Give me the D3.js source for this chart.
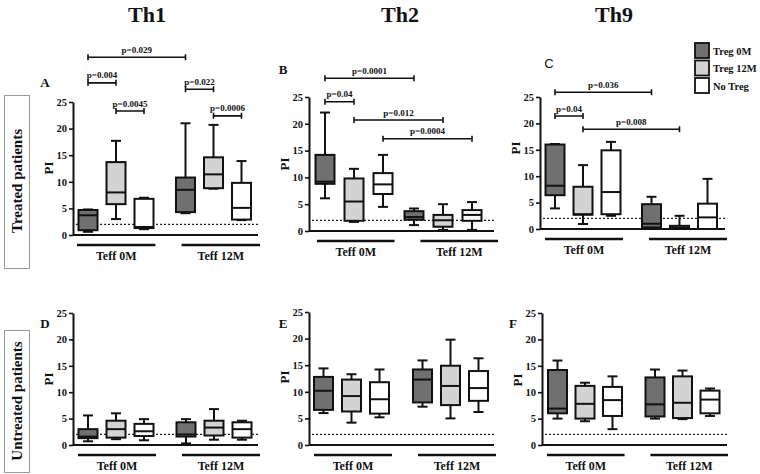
<!DOCTYPE html>
<html lang="en">
<head>
    <meta charset="UTF-8">
    <title>Th1 / Th2 / Th9 proliferation index</title>
    <script src="https://cdn.jsdelivr.net/npm/d3@7"></script>
    <style>
      body { margin: 0; background: #fff; }
      svg text { font-family: "Liberation Serif", "Times New Roman", serif; font-weight: bold; fill: #111; }
    </style>
</head>
<body>
    <div id="container"></div>

    <script>
      // categories
      const groups = ["Teff 0M", "Teff 12M"];
      const series = ["Treg 0M", "Treg 12M", "No Treg"];
      const yTicks = [0, 5, 10, 15, 20, 25];
      const columnTitles = ["Th1", "Th2", "Th9"];
      const rowTitles = ["Treated patients", "Untreated patients"];
      const refLevel = 2;

      // box stats [min, q1, median, q3, max]
      // order: Teff 0M (Treg 0M, Treg 12M, No Treg), then Teff 12M (same)
      const th1Treated = [
          [0.6, 0.9, 3.7, 4.7, 4.8],
          [3.0, 5.8, 8.0, 13.7, 17.7],
          [1.1, 1.3, 1.5, 6.8, 7.0],
          [4.1, 4.3, 8.5, 10.8, 21.0],
          [8.7, 8.8, 11.4, 14.6, 20.7],
          [2.8, 2.9, 5.1, 9.8, 13.9]
      ];
      const th2Treated = [
          [6.1, 8.8, 9.2, 14.2, 22.1],
          [1.7, 1.9, 5.5, 9.8, 11.6],
          [4.5, 6.9, 8.7, 10.8, 14.2],
          [1.1, 2.1, 2.6, 3.7, 4.2],
          [0.2, 0.8, 2.0, 3.0, 5.0],
          [0.2, 1.9, 3.0, 3.9, 5.4]
      ];
      const th9Treated = [
          [3.9, 6.4, 8.2, 16.0, 16.1],
          [0.95, 2.7, 2.8, 8.0, 12.1],
          [2.5, 2.8, 7.0, 14.9, 16.5],
          [0.1, 0.3, 1.0, 4.7, 6.1],
          [0.0, 0.0, 0.25, 0.6, 2.5],
          [0.0, 0.0, 2.2, 4.8, 9.5]
      ];
      const th1Untreated = [
          [0.7, 1.3, 1.6, 3.0, 5.6],
          [1.1, 1.4, 3.0, 4.6, 6.0],
          [0.9, 1.7, 2.6, 4.0, 4.9],
          [0.3, 1.6, 2.0, 4.3, 4.9],
          [1.0, 1.8, 3.3, 4.6, 6.8],
          [1.0, 1.4, 3.0, 4.3, 4.6]
      ];
      const th2Untreated = [
          [6.0, 6.6, 10.2, 12.8, 14.4],
          [4.2, 6.3, 9.2, 12.3, 13.3],
          [5.2, 5.9, 8.6, 11.8, 14.2],
          [7.2, 8.0, 12.3, 14.2, 15.9],
          [5.0, 7.5, 11.1, 14.9, 19.8],
          [6.2, 8.3, 10.7, 13.9, 16.3]
      ];
      const th9Untreated = [
          [5.0, 6.0, 6.9, 14.2, 16.0],
          [4.5, 5.0, 7.8, 11.2, 11.8],
          [3.0, 5.5, 8.5, 11.0, 13.0],
          [5.0, 5.4, 7.7, 12.8, 14.3],
          [4.9, 5.1, 8.0, 13.0, 14.1],
          [5.5, 6.0, 8.6, 10.3, 10.7]
      ];

      // significance brackets [from box, to box, level, label]
      const testsA = [
          [0, 3, 33.4, "p=0.029"],
          [0, 1, 28.6, "p=0.004"],
          [1, 2, 23.3, "p=0.0045"],
          [3, 4, 27.4, "p=0.022"],
          [4, 5, 22.4, "p=0.0006"]
      ];
      const testsB = [
          [0, 3, 28.5, "p=0.0001"],
          [0, 1, 24.1, "p=0.04"],
          [1, 4, 20.7, "p=0.012"],
          [2, 5, 17.2, "p=0.0004"]
      ];
      const testsC = [
          [0, 3, 25.9, "p=0.036"],
          [0, 1, 21.4, "p=0.04"],
          [1, 4, 18.9, "p=0.008"]
      ];

      const width = 760;
      const height = 474;
      const fills = d3.scaleOrdinal().domain(series).range(["#707070", "#d3d3d3", "#ffffff"]);

      const panels = [
          { letter: "A", data: th1Treated, tests: testsA, x: 73, y0: 235, y25: 102, lx: 45, ly: 82, py: 168, centers: [43, 140.5], spread: 28, band: [4, 187] },
          { letter: "B", data: th2Treated, tests: testsB, x: 309, y0: 231, y25: 97, lx: 283, ly: 69, py: 164, centers: [45, 134], spread: 29, band: [8, 189] },
          { letter: "C", data: th9Treated, tests: testsC, x: 540, y0: 229, y25: 97, lx: 549, ly: 63, py: 148, centers: [43, 139.5], spread: 28, band: [5, 187], sans: true },
          { letter: "D", data: th1Untreated, tests: [], x: 73, y0: 445, y25: 313, lx: 45, ly: 323, py: 379, centers: [43, 141], spread: 28, band: [5, 187] },
          { letter: "E", data: th2Untreated, tests: [], x: 309, y0: 445, y25: 312, lx: 283, ly: 323, py: 377, centers: [42.5, 141.5], spread: 28, band: [5, 187] },
          { letter: "F", data: th9Untreated, tests: [], x: 542, y0: 445, y25: 313, lx: 513, ly: 323, py: 380, centers: [43, 140.5], spread: 27.5, band: [5, 186] }
      ];

      const svg = d3.create("svg")
          .attr("width", width)
          .attr("height", height)
          .attr("id", "graph-svg");

      // column titles
      svg.selectAll(".col-title")
          .data(columnTitles)
          .join("text")
          .attr("class", "col-title")
          .attr("x", (d, i) => [147, 400, 614][i])
          .attr("y", 22)
          .attr("text-anchor", "middle")
          .attr("font-size", 22)
          .text(d => d);

      // row titles in boxes
      const rowBoxes = [[95, 173, 181], [330, 142, 401]];
      rowTitles.forEach((t, i) => {
          const [top, h, cy] = rowBoxes[i];
          svg.append("rect")
              .attr("x", 4.5).attr("y", top + 0.5)
              .attr("width", 25).attr("height", h)
              .attr("fill", "none").attr("stroke", "#999").attr("stroke-width", 1);
          svg.append("text")
              .attr("transform", `translate(22,${cy}) rotate(-90)`)
              .attr("text-anchor", "middle")
              .attr("font-size", 15)
              .text(t);
      });

      function drawPanel(p) {
          const g = svg.append("g");
          const y = d3.scaleLinear().domain([0, 25]).range([p.y0, p.y25]);
          const gx = d3.scalePoint().domain(groups).range([p.x + p.centers[0], p.x + p.centers[1]]);
          const sx = d3.scalePoint().domain(series).range([-p.spread, p.spread]);
          const bandX = d3.scaleBand().domain(groups).range([p.x + p.band[0], p.x + p.band[1]]).paddingInner(0.25);
          const boxW = 19;
          const capW = 10;

          const boxes = p.data.map((s, i) => ({
              group: groups[Math.floor(i / 3)],
              series: series[i % 3],
              min: s[0], q1: s[1], med: s[2], q3: s[3], max: s[4]
          }));
          const cx = d => gx(d.group) + sx(d.series);

          // reference line
          g.append("line")
              .attr("x1", p.x + 3).attr("x2", p.x + 185)
              .attr("y1", y(refLevel)).attr("y2", y(refLevel))
              .attr("stroke", "#222").attr("stroke-width", 1.2)
              .attr("stroke-dasharray", "2,2");

          // y axis
          const ax = g.append("g")
              .attr("transform", `translate(${p.x},0)`)
              .call(d3.axisLeft(y).tickValues(yTicks).tickSize(4).tickSizeOuter(0).tickPadding(2));
          ax.select(".domain").attr("stroke", "#111").attr("stroke-width", 2);
          ax.selectAll(".tick line").attr("stroke", "#111").attr("stroke-width", 1.6);
          ax.selectAll(".tick text")
              .attr("font-size", 10.5)
              .attr("fill", "#111");

          // x baseline
          g.append("line")
              .attr("x1", p.x).attr("x2", p.x + 185)
              .attr("y1", p.y0).attr("y2", p.y0)
              .attr("stroke", "#111").attr("stroke-width", 2);

          // whiskers
          const bx = g.selectAll(".box").data(boxes).join("g").attr("class", "box");
          bx.append("line")
              .attr("x1", cx).attr("x2", cx)
              .attr("y1", d => y(d.max)).attr("y2", d => y(d.min))
              .attr("stroke", "#111").attr("stroke-width", 2);
          bx.append("line")
              .attr("x1", d => cx(d) - capW / 2).attr("x2", d => cx(d) + capW / 2)
              .attr("y1", d => y(d.max)).attr("y2", d => y(d.max))
              .attr("stroke", "#111").attr("stroke-width", 2);
          bx.append("line")
              .attr("x1", d => cx(d) - capW / 2).attr("x2", d => cx(d) + capW / 2)
              .attr("y1", d => y(d.min)).attr("y2", d => y(d.min))
              .attr("stroke", "#111").attr("stroke-width", 2);
          bx.append("rect")
              .attr("x", d => cx(d) - boxW / 2)
              .attr("width", boxW)
              .attr("y", d => y(d.q3))
              .attr("height", d => Math.max(y(d.q1) - y(d.q3), 1))
              .attr("fill", d => fills(d.series))
              .attr("stroke", "#111").attr("stroke-width", 2);
          bx.append("line")
              .attr("x1", d => cx(d) - boxW / 2).attr("x2", d => cx(d) + boxW / 2)
              .attr("y1", d => y(d.med)).attr("y2", d => y(d.med))
              .attr("stroke", "#111").attr("stroke-width", 2);

          // group underlines and labels
          g.selectAll(".grp-line").data(groups).join("line")
              .attr("x1", d => bandX(d)).attr("x2", d => bandX(d) + bandX.bandwidth())
              .attr("y1", p.y0 + 10).attr("y2", p.y0 + 10)
              .attr("stroke", "#111").attr("stroke-width", 2.5);
          g.selectAll(".grp-label").data(groups).join("text")
              .attr("x", d => bandX(d) + bandX.bandwidth() / 2)
              .attr("y", p.y0 + 25)
              .attr("text-anchor", "middle")
              .attr("font-size", 12)
              .text(d => d);

          // y label
          g.append("text")
              .attr("transform", `translate(${p.x - 20},${p.py}) rotate(-90)`)
              .attr("text-anchor", "middle")
              .attr("font-size", 13)
              .text("PI");

          // panel letter
          g.append("text")
              .attr("x", p.lx).attr("y", p.ly + 5)
              .attr("text-anchor", "middle")
              .attr("font-size", 13)
              .style("font-family", p.sans ? "Liberation Sans, Arial, sans-serif" : null)
              .style("font-weight", p.sans ? "normal" : null)
              .text(p.letter);

          // significance brackets
          p.tests.forEach(([a, b, lvl, label]) => {
              const xa = cx(boxes[a]);
              const xb = cx(boxes[b]);
              const yy = y(lvl);
              g.append("path")
                  .attr("d", `M${xa},${yy - 3}V${yy + 3}M${xa},${yy}H${xb}M${xb},${yy - 3}V${yy + 3}`)
                  .attr("fill", "none").attr("stroke", "#111").attr("stroke-width", 1.6);
              g.append("text")
                  .attr("x", (xa + xb) / 2).attr("y", yy - 4.5)
                  .attr("text-anchor", "middle")
                  .attr("font-size", 9)
                  .text(label);
          });
      }

      panels.forEach(drawPanel);

      // legend
      const legend = svg.append("g").attr("transform", "translate(695,43)");
      legend.selectAll("rect").data(series).join("rect")
          .attr("x", 0).attr("y", (d, i) => i * 17.5)
          .attr("width", 14).attr("height", 15)
          .attr("fill", d => fills(d))
          .attr("stroke", "#111").attr("stroke-width", 1.8);
      legend.selectAll("text").data(series).join("text")
          .attr("x", 18).attr("y", (d, i) => i * 17.5 + 11.5)
          .attr("font-size", 10.5)
          .text(d => d);

      document.getElementById("container").append(svg.node());
    </script>
</body>
</html>
